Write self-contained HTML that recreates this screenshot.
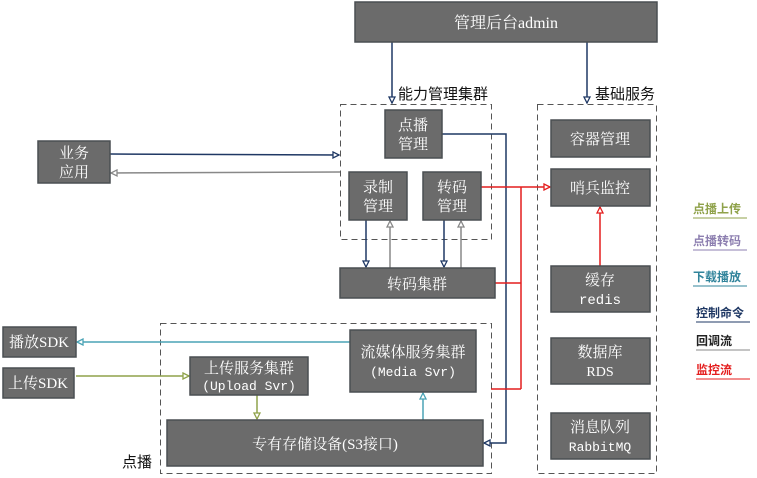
<!DOCTYPE html>
<html><head><meta charset="utf-8"><style>
html,body{margin:0;padding:0;background:#fff;}
svg{display:block;font-family:"Liberation Serif","Noto Serif CJK SC","Noto Sans CJK SC",serif;}
.b{fill:#6b6b6b;stroke:#4a4f52;stroke-width:1.5;}
.t{fill:#fff;font-size:15px;text-anchor:middle;}
.d{fill:none;stroke:#555;stroke-width:1;stroke-dasharray:6,4;}
.l{fill:#111;font-size:15px;font-family:"Liberation Sans","Noto Sans CJK SC",sans-serif;}
</style></head><body>
<svg width="757" height="478" viewBox="0 0 757 478" xmlns="http://www.w3.org/2000/svg">
<defs>
<marker id="an" markerWidth="8" markerHeight="8" refX="7" refY="4" orient="auto" markerUnits="userSpaceOnUse"><path d="M1,1 L7,4 L1,7 Z" fill="#fff" stroke="#1f3864" stroke-width="1.3"/></marker>
<marker id="ag" markerWidth="8" markerHeight="8" refX="7" refY="4" orient="auto" markerUnits="userSpaceOnUse"><path d="M1,1 L7,4 L1,7 Z" fill="#fff" stroke="#888" stroke-width="1.3"/></marker>
<marker id="ar" markerWidth="8" markerHeight="8" refX="7" refY="4" orient="auto" markerUnits="userSpaceOnUse"><path d="M1,1 L7,4 L1,7 Z" fill="#fff" stroke="#e41e1e" stroke-width="1.3"/></marker>
<marker id="at" markerWidth="8" markerHeight="8" refX="7" refY="4" orient="auto" markerUnits="userSpaceOnUse"><path d="M1,1 L7,4 L1,7 Z" fill="#fff" stroke="#4aa3b5" stroke-width="1.3"/></marker>
<marker id="ao" markerWidth="8" markerHeight="8" refX="7" refY="4" orient="auto" markerUnits="userSpaceOnUse"><path d="M1,1 L7,4 L1,7 Z" fill="#fff" stroke="#8fa24a" stroke-width="1.3"/></marker>
</defs>

<!-- dashed groups -->
<rect class="d" x="340.5" y="104.5" width="151" height="135"/>
<rect class="d" x="537.5" y="104.5" width="119" height="369"/>
<rect class="d" x="160.5" y="323.5" width="331" height="150"/>
<text class="l" x="398" y="99" style="font-size:15px">能力管理集群</text>
<text class="l" x="595" y="99">基础服务</text>
<text class="l" x="122" y="467">点播</text>

<!-- connectors -->
<g fill="none" stroke-width="1.5">
<line x1="392" y1="42" x2="392" y2="103" stroke="#1f3864" marker-end="url(#an)"/>
<line x1="587" y1="42" x2="587" y2="103" stroke="#1f3864" marker-end="url(#an)"/>
<line x1="110" y1="154" x2="339" y2="155" stroke="#1f3864" marker-end="url(#an)"/>
<line x1="340" y1="172" x2="111" y2="173" stroke="#888" marker-end="url(#ag)"/>
<polyline points="442,134 506,134 506,443 484,443" stroke="#1f3864" marker-end="url(#an)"/>
<line x1="366" y1="220" x2="366" y2="267" stroke="#1f3864" marker-end="url(#an)"/>
<line x1="390" y1="268" x2="390" y2="221" stroke="#888" marker-end="url(#ag)"/>
<line x1="444" y1="220" x2="444" y2="267" stroke="#1f3864" marker-end="url(#an)"/>
<line x1="461" y1="268" x2="461" y2="221" stroke="#888" marker-end="url(#ag)"/>
<line x1="481" y1="187" x2="550" y2="187" stroke="#e41e1e" marker-end="url(#ar)"/>
<line x1="521" y1="187" x2="521" y2="389" stroke="#e41e1e"/>
<line x1="495" y1="283" x2="521" y2="283" stroke="#e41e1e"/>
<line x1="491" y1="389" x2="521" y2="389" stroke="#e41e1e"/>
<line x1="600" y1="266" x2="600" y2="207" stroke="#e41e1e" marker-end="url(#ar)"/>
<line x1="350" y1="342" x2="77" y2="342" stroke="#4aa3b5" marker-end="url(#at)"/>
<line x1="76" y1="376" x2="189" y2="376" stroke="#8fa24a" marker-end="url(#ao)"/>
<line x1="257" y1="395" x2="257" y2="419" stroke="#8fa24a" marker-end="url(#ao)"/>
<line x1="423" y1="420" x2="423" y2="393" stroke="#4aa3b5" marker-end="url(#at)"/>
</g>

<!-- boxes -->
<rect class="b" x="355" y="2" width="302" height="40"/>
<text class="t" x="506" y="28" style="font-size:16px">管理后台admin</text>

<rect class="b" x="38" y="141" width="72" height="42"/>
<text class="t" x="74" y="158">业务</text><text class="t" x="74" y="177">应用</text>

<rect class="b" x="385" y="110" width="57" height="48"/>
<text class="t" x="413" y="130">点播</text><text class="t" x="413" y="149">管理</text>
<rect class="b" x="349" y="172" width="58" height="48"/>
<text class="t" x="378" y="192">录制</text><text class="t" x="378" y="211">管理</text>
<rect class="b" x="423" y="172" width="58" height="48"/>
<text class="t" x="452" y="192">转码</text><text class="t" x="452" y="211">管理</text>
<rect class="b" x="340" y="268" width="155" height="30"/>
<text class="t" x="417" y="289">转码集群</text>

<rect class="b" x="551" y="120" width="99" height="37"/>
<text class="t" x="600" y="144">容器管理</text>
<rect class="b" x="551" y="169" width="99" height="37"/>
<text class="t" x="600" y="193">哨兵监控</text>
<rect class="b" x="551" y="266" width="99" height="46"/>
<text class="t" x="600" y="285">缓存</text><text class="t" x="600" y="304" style="font-family:'Liberation Mono',monospace;font-size:14px">redis</text>
<rect class="b" x="551" y="338" width="99" height="46"/>
<text class="t" x="600" y="357">数据库</text><text class="t" x="600" y="376" style="font-size:14px">RDS</text>
<rect class="b" x="551" y="413" width="99" height="46"/>
<text class="t" x="600" y="432">消息队列</text><text class="t" x="600" y="451" style="font-family:'Liberation Mono',monospace;font-size:13px">RabbitMQ</text>

<rect class="b" x="3" y="327" width="73" height="30"/>
<text class="t" x="39" y="347">播放SDK</text>
<rect class="b" x="3" y="368" width="71" height="30"/>
<text class="t" x="38" y="388">上传SDK</text>

<rect class="b" x="190" y="357" width="118" height="38"/>
<text class="t" x="249" y="373">上传服务集群</text><text class="t" x="249" y="390" style="font-family:'Liberation Mono',monospace;font-size:13px">(Upload Svr)</text>
<rect class="b" x="350" y="330" width="126" height="62"/>
<text class="t" x="413" y="357">流媒体服务集群</text><text class="t" x="413" y="376" style="font-family:'Liberation Mono',monospace;font-size:13px">(Media Svr)</text>
<rect class="b" x="167" y="420" width="316" height="46"/>
<text class="t" x="325" y="449">专有存储设备(S3接口)</text>

<!-- legend -->
<g font-size="12" font-weight="bold" font-family="'Liberation Sans','Noto Sans CJK SC',sans-serif">
<text x="693" y="213" fill="#8fa24a">点播上传</text><line x1="693" y1="218" x2="747" y2="218" stroke="#8fa24a"/>
<text x="693" y="245" fill="#8d7fb0">点播转码</text><line x1="693" y1="250" x2="747" y2="250" stroke="#8d7fb0"/>
<text x="693" y="281" fill="#31849b">下载播放</text><line x1="693" y1="286" x2="747" y2="286" stroke="#31849b"/>
<text x="696" y="317" fill="#1f3864">控制命令</text><line x1="696" y1="322" x2="750" y2="322" stroke="#1f3864"/>
<text x="696" y="345" fill="#222">回调流</text><line x1="696" y1="350" x2="750" y2="350" stroke="#888"/>
<text x="696" y="374" fill="#e41e1e">监控流</text><line x1="696" y1="379" x2="750" y2="379" stroke="#e41e1e"/>
</g>
</svg>
</body></html>
